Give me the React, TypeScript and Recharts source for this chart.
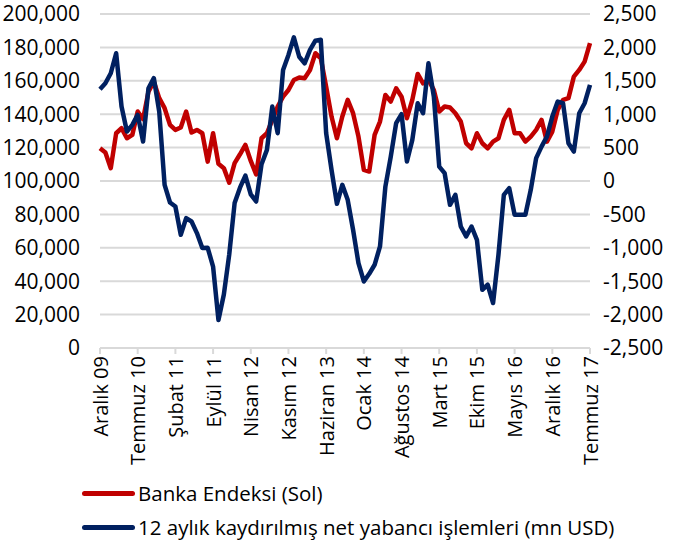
import React from 'react';
import { LineChart, Line, XAxis, YAxis, CartesianGrid } from 'recharts';

const monthNames = ['Ocak', 'Şubat', 'Mart', 'Nisan', 'Mayıs', 'Haziran', 'Temmuz', 'Ağustos', 'Eylül', 'Ekim', 'Kasım', 'Aralık'];

// Banka Endeksi (Sol), Aralık 09 - Temmuz 17
const bankIndex = [
  119600, 117000, 107700, 128600, 131600, 125600, 127600, 141600, 137000, 153500,
  159500, 149600, 143600, 133600, 130600, 132000, 141600, 129000, 130600, 128600,
  111600, 128600, 110300, 107700, 99000, 110700, 116000, 121600, 112000, 104000,
  125600, 128600, 136600, 144600, 150500, 154500, 160500, 162000, 161500, 166500,
  176500, 173500, 156500, 138600, 125600, 138600, 148600, 140600, 126600, 106700,
  105700, 127600, 135600, 151500, 147600, 155500, 150500, 137600, 148600, 164100,
  158500, 160500, 154500, 141600, 144600, 144000, 140600, 135600, 122600, 119600,
  128600, 122600, 119600, 123600, 125600, 136600, 142600, 128600, 128600, 123600,
  126600, 130600, 136600, 123600, 129600, 142600, 148600, 149600, 162500, 166500,
  171500, 182500,
];

// 12 aylık kaydırılmış net yabancı işlemleri (mn USD)
const foreignFlows = [
  1374, 1464, 1613, 1912, 1114, 740, 840, 990, 590, 1389,
  1540, 1039, -57, -322, -382, -805, -556, -606, -780, -1004,
  -1000, -1280, -2080, -1700, -1100, -331, -100, 80, -200, -307,
  250, 466, 1114, 716, 1662, 1887, 2150, 1860, 1762, 1962,
  2101, 2115, 716, 167, -342, -57, -282, -730, -1229, -1504,
  -1389, -1254, -980, -83, 366, 865, 1000, 291, 615, 1164,
  1015, 1762, 1263, 216, 117, -357, -207, -681, -830, -681,
  -880, -1628, -1553, -1827, -1105, -207, -107, -506, -506, -506,
  -132, 342, 515, 665, 964, 1189, 1164, 566, 441, 1015,
  1164, 1438,
];

const leftTicks = [0, 20000, 40000, 60000, 80000, 100000, 120000, 140000, 160000, 180000, 200000];
const rightTicks = [-2500, -2000, -1500, -1000, -500, 0, 500, 1000, 1500, 2000, 2500];

const RED = '#c00000';
const NAVY = '#002060';
const GRID = '#d9d9d9';
const FONT = '"Open Sans", sans-serif';

// first month is Aralık 2009
const categories = bankIndex.map((_, i) => {
  const m = (11 + i) % 12;
  const y = 9 + Math.floor((11 + i) / 12);
  return `${monthNames[m]} ${String(y).padStart(2, '0')}`;
});

const data = categories.map((name, i) => ({
  name,
  bank: bankIndex[i],
  flows: foreignFlows[i],
}));

const fmt = (v: number) => v.toLocaleString('en-US');

const XTick = ({ x, y, payload }: any) => (
  <text
    x={0}
    y={0}
    transform={`translate(${x},${y}) rotate(-90)`}
    textAnchor="end"
    dominantBaseline="central"
    fontSize={20}
    fontFamily={FONT}
    fill="#000"
  >
    {payload.value}
  </text>
);

const legendItems = [
  { label: 'Banka Endeksi (Sol)', color: RED, top: 493 },
  { label: '12 aylık kaydırılmış net yabancı işlemleri (mn USD)', color: NAVY, top: 527 },
];

export default function App() {
  return (
    <div style={{ position: 'absolute', left: 0, top: 0, width: 676, height: 543, background: '#fff', fontFamily: FONT }}>
      <LineChart width={676} height={543} data={data} margin={{ top: 14, right: 0, bottom: 45, left: 0 }}>
        <CartesianGrid yAxisId="left" vertical={false} stroke={GRID} strokeWidth={2} />
        <XAxis
          dataKey="name"
          interval={6}
          height={150}
          axisLine={{ stroke: GRID, strokeWidth: 2 }}
          tickLine={{ stroke: GRID, strokeWidth: 2 }}
          tickSize={6}
          tick={<XTick />}
        />
        <YAxis
          yAxisId="left"
          width={100}
          domain={[0, 200000]}
          ticks={leftTicks}
          interval={0}
          tickFormatter={fmt}
          axisLine={false}
          tickLine={false}
          tickSize={0}
          tickMargin={20}
          tick={{ fontSize: 21, fill: '#000', fontFamily: FONT }}
        />
        <YAxis
          yAxisId="right"
          orientation="right"
          width={86}
          domain={[-2500, 2500]}
          ticks={rightTicks}
          interval={0}
          tickFormatter={fmt}
          axisLine={false}
          tickLine={false}
          tickSize={0}
          tickMargin={13}
          tick={{ fontSize: 21, fill: '#000', fontFamily: FONT }}
        />
        <Line
          yAxisId="left"
          type="linear"
          dataKey="bank"
          stroke={RED}
          strokeWidth={4.5}
          strokeLinejoin="round"
          dot={false}
          isAnimationActive={false}
        />
        <Line
          yAxisId="right"
          type="linear"
          dataKey="flows"
          stroke={NAVY}
          strokeWidth={4.5}
          strokeLinejoin="round"
          dot={false}
          isAnimationActive={false}
        />
      </LineChart>

      {/* legend */}
      {legendItems.map((item) => (
        <div key={item.label} style={{ position: 'absolute', left: 82, top: item.top - 14, height: 28, display: 'flex', alignItems: 'center' }}>
          <div style={{ width: 53, height: 5, borderRadius: 3, background: item.color, marginRight: 3 }} />
          <span style={{ fontSize: 20.5, color: '#000', whiteSpace: 'nowrap' }}>{item.label}</span>
        </div>
      ))}
    </div>
  );
}
